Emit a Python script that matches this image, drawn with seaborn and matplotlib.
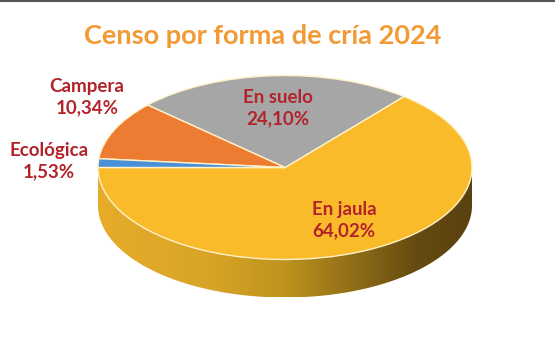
import numpy as np
import matplotlib
matplotlib.use("Agg")
import matplotlib.pyplot as plt
import seaborn as sns
from matplotlib.colors import LinearSegmentedColormap
from matplotlib.patches import Polygon
from matplotlib.lines import Line2D

# ---- data ----
categories = ["En jaula", "En suelo", "Campera", "Ecológica"]
values = [64.02, 24.10, 10.34, 1.53]
title = "Censo por forma de cría 2024"

# ---- styles ----
colors = ["#FABB2B", "#A6A6A6", "#EC7C32", "#4A90D9"]
label_color = "#B3232B"
title_color = "#F29A33"
# label positions in image pixels (x, y of centre of the two-line block)
label_pos = [(344, 220), (278, 108), (87, 97), (49, 161)]

sns.set_theme(style="white")
plt.rcParams['font.family'] = ['Lato', 'DejaVu Sans']

W, H = 555, 357
fig = plt.figure(figsize=(W / 100, H / 100), dpi=100)
fig.patch.set_facecolor("white")

# pie geometry in pixels
cx, cy = 285, 167.5
rx, ry = 187, 92
depth_px = 38
d = depth_px / ry

x0, x1 = -1.05, 1.05
y0, y1 = -1.0 - d - 0.2, 1.12
left = (cx + x0 * rx) / W
width = (x1 - x0) * rx / W
top_img = cy - y1 * ry
height_px = (y1 - y0) * ry
bottom = (H - (top_img + height_px)) / H
ax = fig.add_axes([left, bottom, width, height_px / H])

# side of the disc (3D effect)
t = np.linspace(np.pi, 2 * np.pi, 200)
pts = np.concatenate([np.column_stack([np.cos(t), np.sin(t)]),
                      np.column_stack([np.cos(t[::-1]), np.sin(t[::-1]) - d])])
side = Polygon(pts, closed=True, facecolor="none", edgecolor="none")
ax.add_patch(side)
cmap = LinearSegmentedColormap.from_list(
    "side", [(0, "#E6AC2A"), (0.3, "#D8A426"), (0.5, "#BE931F"),
             (0.7, "#8C6A16"), (0.85, "#654B11"), (1.0, "#5A4210")])
grad = np.linspace(0, 1, 256).reshape(1, -1)
im = ax.imshow(grad, cmap=cmap, extent=(-1, 1, -1 - d, 0), aspect="auto",
               zorder=1, interpolation="bicubic")
im.set_clip_path(side)

wedges, _ = ax.pie(values, colors=colors, startangle=180, counterclock=True,
                   radius=1, center=(0, 0), normalize=True,
                   wedgeprops=dict(edgecolor="#FFF1C8", linewidth=1.0, zorder=2))
for w in wedges:
    w.set_zorder(3)

ax.set_aspect("auto")
ax.set_xlim(x0, x1)
ax.set_ylim(y0, y1)
ax.axis("off")

# labels
for name, val, (px, py) in zip(categories, values, label_pos):
    txt = f"{name}\n{val:.2f}%".replace(".", ",")
    fig.text(px / W, 1 - py / H, txt, ha="center", va="center",
             color=label_color, fontsize=13.5, fontweight="bold",
             linespacing=1.3, zorder=5)

fig.text(263 / W, 1 - 36 / H, title, ha="center", va="center",
         color=title_color, fontsize=19.5, fontweight="bold")

fig.add_artist(Line2D([0, 1], [1 - 0.5 / H, 1 - 0.5 / H], color="#555555",
                      linewidth=1.5, transform=fig.transFigure))

fig.savefig("out.png", dpi=100, facecolor="white")
